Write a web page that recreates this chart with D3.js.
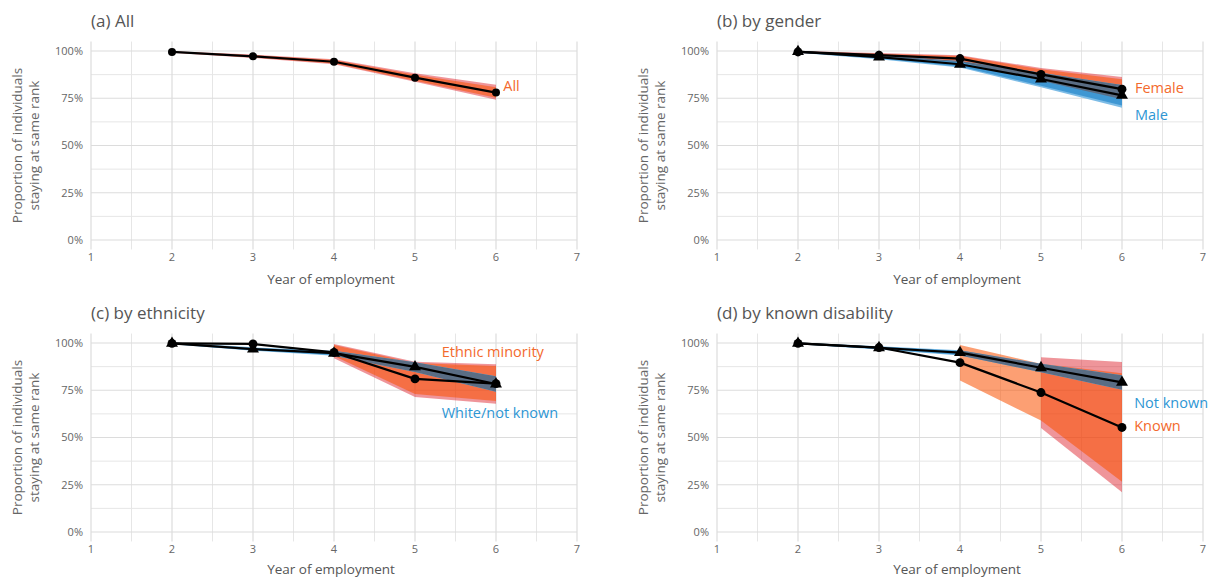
<!DOCTYPE html>
<html><head><meta charset="utf-8">
<script src="https://cdn.jsdelivr.net/npm/d3@7"></script>
<style>
body{margin:0;background:#fff;}
text{font-family:"Open Sans",sans-serif;}
</style></head>
<body><svg id="chart" width="1211" height="581"></svg>
<script>
// ---------- data (proportions in %) ----------
const years = [2, 3, 4, 5, 6];
const xTicks = [1, 2, 3, 4, 5, 6, 7];
const yTicks = [0, 0.25, 0.5, 0.75, 1];
const yTickLabels = ["0%", "25%", "50%", "75%", "100%"];
const panelTitles = ["(a) All", "(b) by gender", "(c) by ethnicity", "(d) by known disability"];

// (a) All
const allMean    = [99.5, 97.2, 94.3, 85.9, 78.0];
const allInnerLo = [99.3, 96.6, 93.4, 84.3, 75.2];
const allInnerHi = [99.7, 97.8, 95.2, 87.5, 80.8];
const allOuterLo = [99.1, 96.3, 93.0, 83.7, 74.2];
const allOuterHi = [99.9, 98.1, 95.6, 88.2, 82.2];

// (b) gender
const femaleMean    = [99.5, 97.8, 96.0, 87.6, 79.8];
const femaleInnerLo = [99.2, 97.0, 94.6, 84.8, 75.5];
const femaleInnerHi = [99.8, 98.6, 97.3, 90.3, 85.0];
const femaleOuterLo = [99.0, 96.8, 94.2, 84.2, 74.5];
const femaleOuterHi = [100.0, 98.9, 97.7, 91.0, 86.2];
const maleMean    = [99.7, 96.8, 93.0, 85.2, 76.5];
const maleInnerLo = [99.3, 96.0, 91.8, 81.6, 71.2];
const maleInnerHi = [99.9, 97.5, 94.3, 87.8, 81.2];
const maleOuterLo = [99.1, 95.7, 91.3, 80.8, 70.0];
const maleOuterHi = [100.0, 97.8, 94.7, 88.5, 82.0];

// (c) ethnicity
const ethnicMean    = [99.8, 99.5, 95.0, 81.0, 78.5];
const ethnicInnerLo = [null, null, 93.1, 73.0, 69.3];
const ethnicInnerHi = [null, null, 99.0, 89.4, 87.8];
const ethnicOuterLo = [null, null, 91.9, 71.4, 67.9];
const ethnicOuterHi = [null, null, 99.5, 90.1, 88.7];
const whiteMean    = [99.8, 96.8, 94.6, 87.4, 78.3];
const whiteInnerLo = [99.5, 96.2, 93.6, 85.2, 74.8];
const whiteInnerHi = [100.0, 97.4, 95.5, 89.3, 81.8];
const whiteOuterLo = [99.3, 95.9, 93.2, 84.7, 74.2];
const whiteOuterHi = [100.2, 97.7, 95.9, 89.8, 82.4];

// (d) known disability
const knownMean    = [99.8, 97.6, 89.6, 73.8, 55.3];
const knownInnerLo = [null, null, 80.1, 59.0, 26.6];
const knownInnerHi = [null, null, 99.0, 89.0, 84.0];
const knownOuterLo = [null, null, null, 55.0, 21.0];
const knownOuterHi = [null, null, null, 92.5, 90.0];
const notKnownMean    = [99.8, 97.5, 94.9, 86.9, 79.2];
const notKnownInnerLo = [99.5, 96.8, 93.8, 85.0, 75.8];
const notKnownInnerHi = [100.0, 98.0, 95.8, 88.5, 82.3];
const notKnownOuterLo = [99.3, 96.5, 93.4, 84.5, 75.2];
const notKnownOuterHi = [100.2, 98.3, 96.2, 89.0, 82.9];

// group labels (data coordinates)
const labelText = [["All"], ["Female", "Male"], ["Ethnic minority", "White/not known"], ["Known", "Not known"]];
const labelX = [[6.09], [6.16, 6.16], [5.33, 5.33], [6.15, 6.15]];
const labelY = [[0.815], [0.804, 0.661], [0.952, 0.63], [0.561, 0.683]];

// ---------- build ----------
function grp(mean, ilo, ihi, olo, ohi, kind, shape) {
  return {
    pts: years.map((y, i) => ({x: y, m: mean[i], ilo: ilo[i], ihi: ihi[i], olo: olo[i], ohi: ohi[i]})),
    kind, shape
  };
}
const panels = [
  [grp(allMean, allInnerLo, allInnerHi, allOuterLo, allOuterHi, "orange", "circle")],
  [grp(femaleMean, femaleInnerLo, femaleInnerHi, femaleOuterLo, femaleOuterHi, "orange", "circle"),
   grp(maleMean, maleInnerLo, maleInnerHi, maleOuterLo, maleOuterHi, "blue", "triangle")],
  [grp(ethnicMean, ethnicInnerLo, ethnicInnerHi, ethnicOuterLo, ethnicOuterHi, "orange", "circle"),
   grp(whiteMean, whiteInnerLo, whiteInnerHi, whiteOuterLo, whiteOuterHi, "blue", "triangle")],
  [grp(knownMean, knownInnerLo, knownInnerHi, knownOuterLo, knownOuterHi, "orange", "circle"),
   grp(notKnownMean, notKnownInnerLo, notKnownInnerHi, notKnownOuterLo, notKnownOuterHi, "blue", "triangle")]
];
const labelColor = {orange: "#f36a2d", blue: "#2e96d4"};

const svg = d3.select("#chart");
const layout = [
  {left: 91, right: 577, top: 51, bottom: 240, xt: 35},
  {left: 717, right: 1203, top: 51, bottom: 240, xt: 35},
  {left: 91, right: 577, top: 343, bottom: 532, xt: 33},
  {left: 717, right: 1203, top: 343, bottom: 532, xt: 33}
];

panels.forEach((groups, pi) => {
  const L = layout[pi];
  const x = d3.scaleLinear().domain([1, 7]).range([L.left, L.right]);
  const y = d3.scaleLinear().domain([0, 1]).range([L.bottom, L.top]);
  const g = svg.append("g");
  const yMin = y(-0.05), yMax = y(1.05);

  // grid minor
  d3.range(1.5, 7, 1).forEach(v => g.append("line").attr("x1", x(v)).attr("x2", x(v)).attr("y1", yMax).attr("y2", yMin)
    .attr("stroke", "#e6e6e6").attr("stroke-width", 1));
  d3.range(0.125, 1.05, 0.25).forEach(v => g.append("line").attr("x1", x(1)).attr("x2", x(7)).attr("y1", y(v)).attr("y2", y(v))
    .attr("stroke", "#e6e6e6").attr("stroke-width", 1));
  // grid major
  xTicks.forEach(v => g.append("line").attr("x1", x(v)).attr("x2", x(v)).attr("y1", yMax).attr("y2", yMin)
    .attr("stroke", "#dcdcdc").attr("stroke-width", 1.2));
  yTicks.forEach(v => g.append("line").attr("x1", x(1)).attr("x2", x(7)).attr("y1", y(v)).attr("y2", y(v))
    .attr("stroke", "#dcdcdc").attr("stroke-width", 1.2));

  // tick labels
  xTicks.forEach(v => g.append("text").attr("x", x(v)).attr("y", yMin + 12).attr("text-anchor", "middle")
    .attr("font-size", 11).attr("fill", "#666").text(v));
  yTicks.forEach((v, i) => g.append("text").attr("x", x(1) - 8).attr("y", y(v)).attr("dy", "0.35em").attr("text-anchor", "end")
    .attr("font-size", 11).attr("fill", "#666").text(yTickLabels[i]));

  // titles
  g.append("text").attr("x", x(1)).attr("y", L.top - 24).attr("font-size", 17).attr("fill", "#555").text(panelTitles[pi]);
  g.append("text").attr("x", (x(1) + x(7)) / 2 - 3).attr("y", yMin + L.xt).attr("text-anchor", "middle")
    .attr("font-size", 13.5).attr("fill", "#555").text("Year of employment");
  const yc = (y(0) + y(1)) / 2;
  const yt = g.append("text").attr("transform", `translate(${x(1) - 69},${yc}) rotate(-90)`).attr("text-anchor", "middle")
    .attr("font-size", 13.5).attr("fill", "#666");
  yt.append("tspan").attr("x", 0).attr("dy", 0).text("Proportion of individuals");
  yt.append("tspan").attr("x", 0).attr("dy", 17).text("staying at same rank");

  const area = (lo, hi) => d3.area().defined(d => d[lo] != null && d[hi] != null)
    .x(d => x(d.x)).y0(d => y(d[lo] / 100)).y1(d => y(d[hi] / 100));
  const outerA = area("olo", "ohi"), innerA = area("ilo", "ihi");

  const orange = groups.find(d => d.kind === "orange");
  const blue = groups.find(d => d.kind === "blue");

  // orange group ribbons
  g.append("path").attr("d", outerA(orange.pts)).attr("fill", "rgb(220,30,40)").attr("fill-opacity", 0.47);
  g.append("path").attr("d", innerA(orange.pts)).attr("fill", "rgb(250,80,0)").attr("fill-opacity", 0.55);

  if (blue) {
    g.append("path").attr("d", outerA(blue.pts)).attr("fill", "#7dbce6");
    g.append("path").attr("d", innerA(blue.pts)).attr("fill", "#3f97d3");
    const cid = "clip" + pi;
    const cp = svg.append("defs").append("clipPath").attr("id", cid);
    cp.append("path").attr("d", outerA(orange.pts));
    cp.append("path").attr("d", innerA(orange.pts));
    g.append("path").attr("d", outerA(blue.pts)).attr("fill", "#5a6d84").attr("clip-path", `url(#${cid})`);
  }

  const line = d3.line().x(d => x(d.x)).y(d => y(d.m / 100));
  groups.slice().reverse().forEach(gr => g.append("path").attr("d", line(gr.pts)).attr("fill", "none")
    .attr("stroke", "#000").attr("stroke-width", 2.2).attr("stroke-linejoin", "round"));
  groups.slice().reverse().forEach(gr => {
    const sym = gr.shape === "circle" ? d3.symbol(d3.symbolCircle, pi === 0 ? 50 : 62) : d3.symbol(d3.symbolTriangle, 62);
    gr.pts.forEach(d => g.append("path").attr("d", sym()).attr("transform", `translate(${x(d.x)},${y(d.m / 100)})`).attr("fill", "#000"));
  });

  // group labels
  labelText[pi].forEach((t, i) => {
    const kind = i === 0 ? "orange" : "blue";
    g.append("text").attr("x", x(labelX[pi][i])).attr("y", y(labelY[pi][i])).attr("dy", "0.35em")
      .attr("font-size", 14.5).attr("fill", labelColor[kind]).text(t);
  });
});
</script></body></html>
